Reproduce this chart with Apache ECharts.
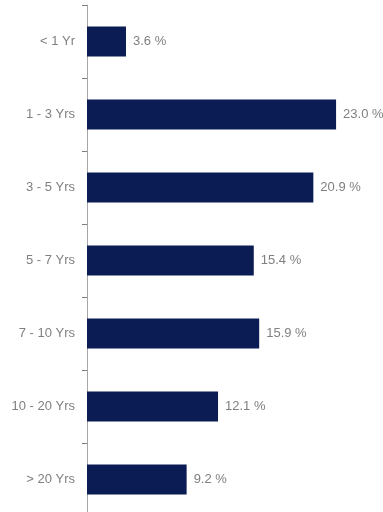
<!DOCTYPE html>
<html><head><meta charset="utf-8">
<script src="https://cdn.jsdelivr.net/npm/echarts@6/dist/echarts.min.js"></script>
<style>html,body{margin:0;padding:0;background:#fff}#c{width:383px;height:512px}</style>
</head><body><div id="c"></div>
<script>
const categories = ["< 1 Yr", "1 - 3 Yrs", "3 - 5 Yrs", "5 - 7 Yrs", "7 - 10 Yrs", "10 - 20 Yrs", "> 20 Yrs"];
const values = [3.6, 23.0, 20.9, 15.4, 15.9, 12.1, 9.2];

const chart = echarts.init(document.getElementById('c'));
chart.setOption({
  animation: false,
  grid: { left: 87, top: 5, height: 511, width: 292.4, containLabel: false, outerBoundsMode: 'none' },
  xAxis: { type: 'value', min: 0, max: 27, show: false },
  yAxis: {
    type: 'category', data: categories, inverse: true,
    axisLine: { show: true, lineStyle: { color: '#a6a6a6', width: 1 } },
    axisTick: { show: true, length: 5, lineStyle: { color: '#7f7f7f' } },
    axisLabel: { color: '#808080', fontSize: 13, fontFamily: 'Liberation Sans, Arial, sans-serif', margin: 12 },
    splitLine: { show: false }
  },
  series: [{
    type: 'bar', data: values, barWidth: 30,
    itemStyle: { color: '#0b1c55' },
    label: { show: true, position: 'right', distance: 7, color: '#808080', fontSize: 13,
      fontFamily: 'Liberation Sans, Arial, sans-serif',
      formatter: p => p.value.toFixed(1) + ' %' }
  }]
});
</script></body></html>
